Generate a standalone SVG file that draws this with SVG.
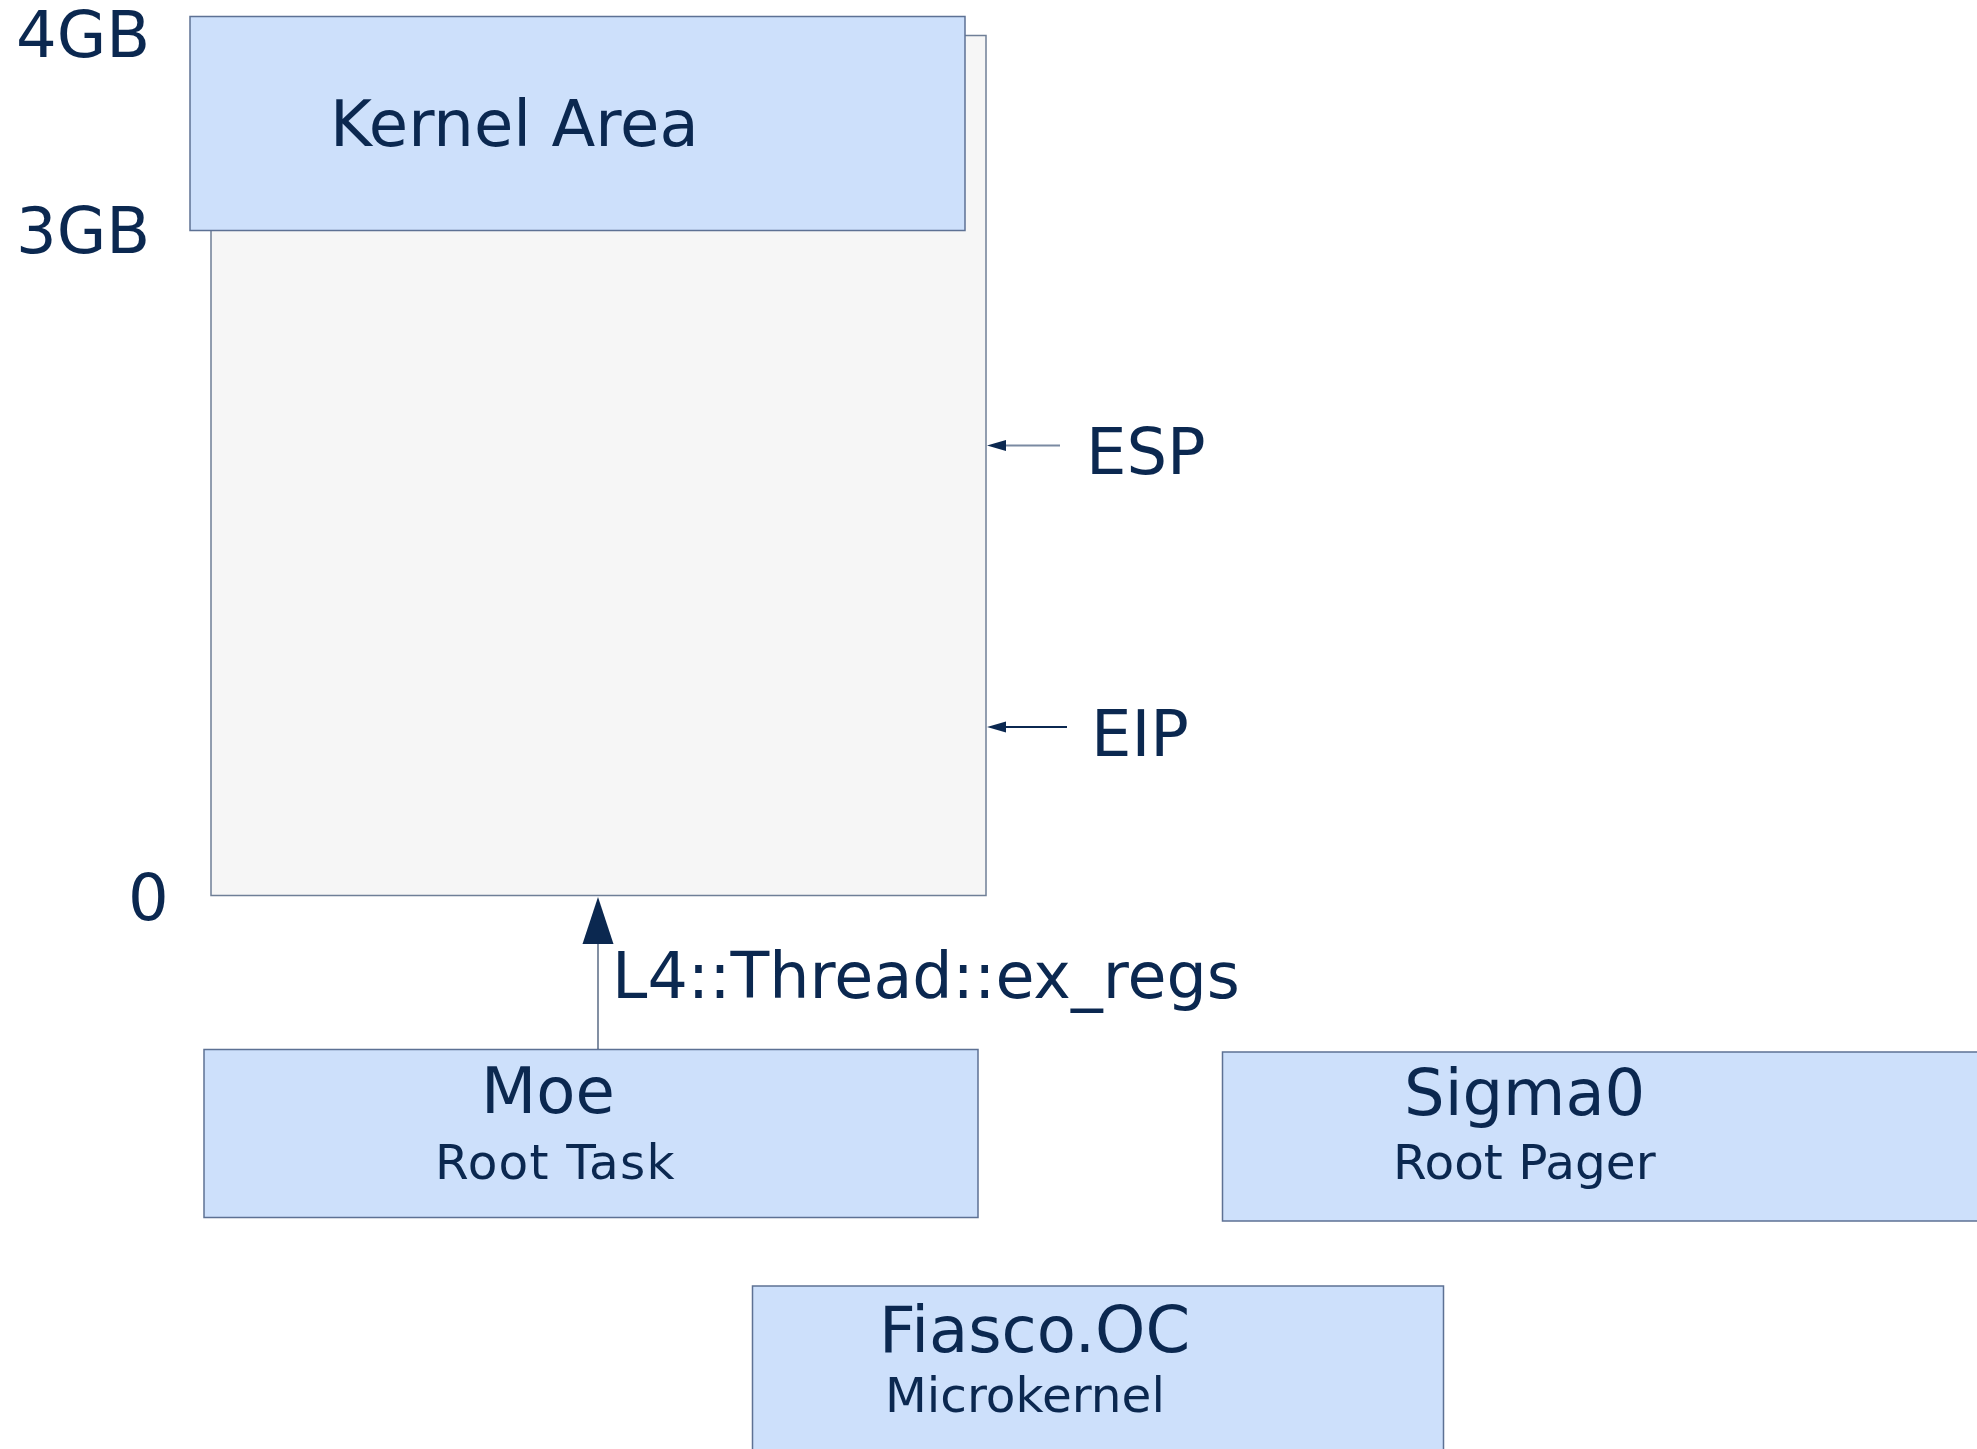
<svg xmlns="http://www.w3.org/2000/svg" width="1977" height="1449" viewBox="0 0 1977 1449">
<defs>
<style>
.t{font-family:"DejaVu Sans",Verdana,sans-serif;fill:#0b2850}
.big{font-size:64px}
.sub{font-size:48.5px}
.box{fill:#cde0fb;stroke:#5d7194;stroke-width:1.5}
.space{fill:#f6f6f6;stroke:#6f7f97;stroke-width:1.5}
</style>
</defs>
<rect width="1977" height="1449" fill="#ffffff"/>
<g id="address-space">
<rect class="space" x="211" y="35.5" width="775" height="860"/>
</g>
<g id="kernel-area">
<rect class="box" x="190" y="16.5" width="775" height="214"/>
<text class="t big" x="330" y="146">Kernel Area</text>
</g>
<g id="labels">
<text class="t big" x="16" y="57">4GB</text>
<text class="t big" x="16" y="253">3GB</text>
<text class="t big" x="128" y="920">0</text>
<text class="t big" x="1086" y="474">ESP</text>
<text class="t big" x="1091" y="756" font-size="66">EIP</text>
</g>
<g id="moe">
<rect class="box" x="204" y="1049.5" width="774" height="168"/>
<text class="t big" x="481" y="1113">Moe</text>
<text class="t sub" x="435" y="1179" letter-spacing="1.2">Root Task</text>
</g>
<g id="sigma0">
<rect class="box" x="1222.5" y="1052" width="780" height="169"/>
<text class="t big" x="1404" y="1115">Sigma0</text>
<text class="t sub" x="1393" y="1179">Root Pager</text>
</g>
<g id="fiasco">
<rect class="box" x="752.5" y="1286" width="691" height="200"/>
<text class="t big" x="879" y="1352">Fiasco.OC</text>
<text class="t sub" x="885" y="1412">Microkernel</text>
</g>
<g id="connectors">
<line x1="1060" y1="445.5" x2="1006" y2="445.5" stroke="#7a8aa2" stroke-width="2"/>
<path d="M987,445.5 L1006,440 L1006,451 Z" fill="#0b2850"/>
<line x1="1067" y1="727" x2="1006" y2="727" stroke="#0b2850" stroke-width="2"/>
<path d="M987,727 L1006,721.5 L1006,732.5 Z" fill="#0b2850"/>
<line x1="598" y1="1049" x2="598" y2="942" stroke="#2f4566" stroke-width="1.2"/>
<path d="M598,897 L613.5,944 L582.5,944 Z" fill="#0b2850"/>
<text class="t" x="612" y="998" font-size="63.5">L4::Thread::ex_regs</text>
</g>
</svg>
